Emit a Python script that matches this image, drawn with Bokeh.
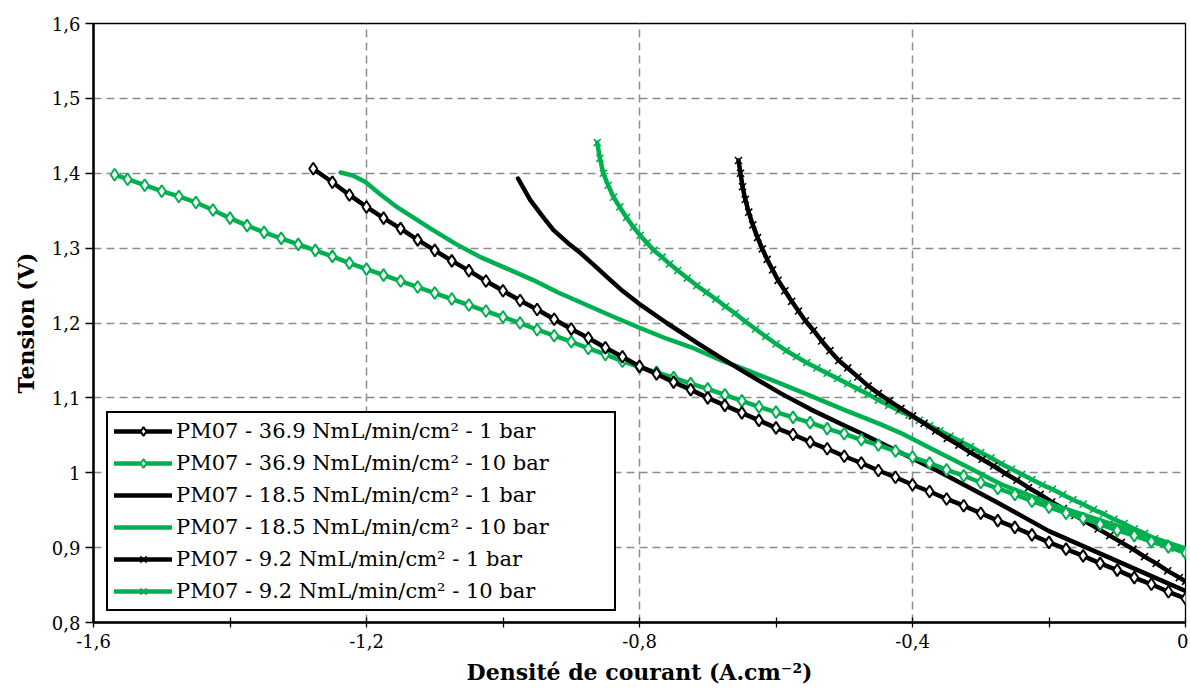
from bokeh.plotting import figure
from bokeh.models import FixedTicker, Legend, LegendItem, ColumnDataSource
from bokeh.embed import file_html
from bokeh.resources import INLINE

# ---------------- data ----------------
s1_x = [-1.278, -1.25, -1.225, -1.2, -1.175, -1.15, -1.125, -1.1, -1.075, -1.05, -1.025, -1.0,
        -0.975, -0.95, -0.925, -0.9, -0.875, -0.85, -0.825, -0.8, -0.775, -0.75, -0.725, -0.7,
        -0.675, -0.65, -0.625, -0.6, -0.575, -0.55, -0.525, -0.5, -0.475, -0.45, -0.425, -0.4,
        -0.375, -0.35, -0.325, -0.3, -0.275, -0.25, -0.225, -0.2, -0.175, -0.15, -0.125, -0.1,
        -0.075, -0.05, -0.025, 0.0]
s1_y = [1.406, 1.388, 1.371, 1.355, 1.340, 1.326, 1.311, 1.297, 1.283, 1.270, 1.256, 1.243,
        1.230, 1.218, 1.205, 1.192, 1.180, 1.167, 1.155, 1.142, 1.132, 1.121, 1.111, 1.100,
        1.090, 1.080, 1.070, 1.060, 1.051, 1.041, 1.032, 1.022, 1.013, 1.003, 0.994, 0.984,
        0.975, 0.965, 0.956, 0.946, 0.936, 0.927, 0.917, 0.907, 0.898, 0.889, 0.879, 0.870,
        0.860, 0.851, 0.841, 0.832]

s2_x = [-1.569, -1.55, -1.525, -1.5, -1.475, -1.45, -1.425, -1.4, -1.375, -1.35, -1.325, -1.3,
        -1.275, -1.25, -1.225, -1.2, -1.175, -1.15, -1.125, -1.1, -1.075, -1.05, -1.025, -1.0,
        -0.975, -0.95, -0.925, -0.9, -0.875, -0.85, -0.825, -0.8, -0.775, -0.75, -0.725, -0.7,
        -0.675, -0.65, -0.625, -0.6, -0.575, -0.55, -0.525, -0.5, -0.475, -0.45, -0.425, -0.4,
        -0.375, -0.35, -0.325, -0.3, -0.275, -0.25, -0.225, -0.2, -0.175, -0.15, -0.125, -0.1,
        -0.075, -0.05, -0.025, 0.0]
s2_y = [1.398, 1.392, 1.384, 1.376, 1.369, 1.361, 1.351, 1.340, 1.330, 1.321, 1.313, 1.305,
        1.297, 1.289, 1.280, 1.272, 1.264, 1.256, 1.248, 1.240, 1.232, 1.224, 1.216, 1.208,
        1.200, 1.191, 1.183, 1.175, 1.166, 1.158, 1.149, 1.141, 1.134, 1.127, 1.119, 1.112,
        1.104, 1.096, 1.088, 1.081, 1.074, 1.067, 1.059, 1.052, 1.044, 1.037, 1.029, 1.021,
        1.013, 1.004, 0.996, 0.987, 0.979, 0.971, 0.962, 0.954, 0.946, 0.939, 0.931, 0.923,
        0.916, 0.908, 0.901, 0.893]

s3_x = [-0.978, -0.96, -0.94, -0.926, -0.905, -0.886, -0.865, -0.847, -0.825, -0.801, -0.76,
        -0.715, -0.68, -0.64, -0.593, -0.55, -0.5, -0.476, -0.418, -0.36, -0.31, -0.271,
        -0.2, -0.15, -0.1, -0.05, 0.0]
s3_y = [1.393, 1.364, 1.340, 1.324, 1.307, 1.293, 1.276, 1.261, 1.243, 1.226, 1.200,
        1.173, 1.153, 1.131, 1.106, 1.085, 1.063, 1.053, 1.027, 1.001, 0.977, 0.958,
        0.922, 0.902, 0.882, 0.862, 0.842]

s4_x = [-1.238, -1.22, -1.201, -1.18, -1.154, -1.13, -1.106, -1.07, -1.033, -0.995, -0.955,
        -0.92, -0.88, -0.84, -0.801, -0.76, -0.72, -0.68, -0.64, -0.593, -0.55, -0.5, -0.45,
        -0.417, -0.37, -0.32, -0.271, -0.235, -0.2, -0.15, -0.1, -0.05, 0.0]
s4_y = [1.401, 1.397, 1.388, 1.372, 1.354, 1.340, 1.326, 1.306, 1.288, 1.273, 1.257,
        1.241, 1.225, 1.209, 1.194, 1.179, 1.166, 1.150, 1.136, 1.119, 1.103, 1.084, 1.066,
        1.053, 1.031, 1.008, 0.985, 0.972, 0.959, 0.944, 0.929, 0.914, 0.899]

s5_x = [-0.655, -0.652, -0.649, -0.645, -0.640, -0.634, -0.627, -0.620, -0.613, -0.605, -0.597,
        -0.587, -0.577, -0.567, -0.557, -0.545, -0.533, -0.521, -0.508, -0.495, -0.480, -0.465,
        -0.450, -0.434, -0.417, -0.400, -0.383, -0.366, -0.349, -0.332, -0.315, -0.298, -0.281,
        -0.264, -0.247, -0.230, -0.213, -0.196, -0.179, -0.162, -0.145, -0.128, -0.111, -0.094,
        -0.077, -0.060, -0.043, -0.026, -0.009, 0.0]
s5_y = [1.417, 1.400, 1.382, 1.365, 1.348, 1.331, 1.314, 1.299, 1.285, 1.271, 1.257,
        1.243, 1.229, 1.216, 1.203, 1.190, 1.176, 1.163, 1.150, 1.140, 1.128, 1.116,
        1.106, 1.096, 1.086, 1.076, 1.066, 1.056, 1.046, 1.037, 1.027, 1.018, 1.009,
        0.999, 0.990, 0.980, 0.971, 0.961, 0.952, 0.943, 0.934, 0.925, 0.916, 0.907,
        0.898, 0.888, 0.879, 0.869, 0.860, 0.855]

s6_x = [-0.862, -0.858, -0.853, -0.846, -0.838, -0.829, -0.819, -0.809, -0.799, -0.789, -0.779,
        -0.767, -0.756, -0.744, -0.730, -0.716, -0.702, -0.688, -0.674, -0.660, -0.645, -0.630,
        -0.615, -0.600, -0.585, -0.570, -0.555, -0.540, -0.525, -0.510, -0.495, -0.480, -0.465,
        -0.450, -0.435, -0.420, -0.405, -0.390, -0.375, -0.360, -0.345, -0.330, -0.315, -0.300,
        -0.285, -0.270, -0.255, -0.240, -0.225, -0.210, -0.195, -0.180, -0.165, -0.150, -0.135,
        -0.120, -0.105, -0.090, -0.075, -0.060, -0.045, -0.030, -0.015, 0.0]
s6_y = [1.441, 1.420, 1.400, 1.384, 1.368, 1.355, 1.341, 1.328, 1.317, 1.307, 1.297,
        1.288, 1.279, 1.270, 1.260, 1.250, 1.241, 1.232, 1.222, 1.213, 1.202, 1.192,
        1.182, 1.172, 1.163, 1.155, 1.147, 1.140, 1.133, 1.126, 1.119, 1.112, 1.105,
        1.097, 1.090, 1.083, 1.077, 1.070, 1.063, 1.056, 1.049, 1.042, 1.035, 1.027,
        1.020, 1.012, 1.005, 0.998, 0.991, 0.984, 0.978, 0.971, 0.964, 0.958, 0.951,
        0.945, 0.938, 0.932, 0.925, 0.919, 0.912, 0.906, 0.899, 0.893]

series_labels = [
    "PM07 - 36.9 NmL/min/cm² - 1 bar",
    "PM07 - 36.9 NmL/min/cm² - 10 bar",
    "PM07 - 18.5 NmL/min/cm² - 1 bar",
    "PM07 - 18.5 NmL/min/cm² - 10 bar",
    "PM07 - 9.2 NmL/min/cm² - 1 bar",
    "PM07 - 9.2 NmL/min/cm² - 10 bar",
]

x_major_ticks = [-1.6, -1.2, -0.8, -0.4, 0.0]
x_major_labels = ["-1,6", "-1,2", "-0,8", "-0,4", "0"]
x_minor_ticks = [-1.4, -1.0, -0.6, -0.2]
y_ticks = [0.8, 0.9, 1.0, 1.1, 1.2, 1.3, 1.4, 1.5, 1.6]
y_labels = ["0,8", "0,9", "1", "1,1", "1,2", "1,3", "1,4", "1,5", "1,6"]

x_title = "Densité de courant (A.cm⁻²)"
y_title = "Tension (V)"

# ---------------- styling ----------------
BLACK = "#000000"
GREEN = "#00B050"
SERIF = "DejaVu Serif"

p = figure(width=1188, height=700, x_range=(-1.6, 0.0), y_range=(0.8, 1.6),
           output_backend="svg", toolbar_location=None,
           min_border_left=93, min_border_right=3, min_border_top=23, min_border_bottom=78)

p.background_fill_color = "white"
p.border_fill_color = "white"
p.outline_line_color = "black"
p.outline_line_width = 1.3

# axes
p.xaxis.ticker = FixedTicker(ticks=x_major_ticks, minor_ticks=x_minor_ticks)
p.xaxis.major_label_overrides = dict(zip(x_major_ticks, x_major_labels))
p.yaxis.ticker = FixedTicker(ticks=y_ticks, minor_ticks=[])
p.yaxis.major_label_overrides = dict(zip(y_ticks, y_labels))

for ax in (p.xaxis[0], p.yaxis[0]):
    ax.axis_line_color = "black"
    ax.axis_line_width = 2.5
    ax.major_tick_line_color = "black"
    ax.major_tick_line_width = 1.3
    ax.minor_tick_line_color = "black"
    ax.minor_tick_line_width = 1.3
    ax.major_label_text_font = SERIF
    ax.major_label_text_font_size = "18px"
    ax.major_label_text_color = "black"
    ax.axis_label_text_font = SERIF
    ax.axis_label_text_font_style = "bold"
    ax.axis_label_text_font_size = "22px"
    ax.axis_label_text_color = "black"

p.xaxis.major_tick_in = 5
p.xaxis.major_tick_out = 5
p.xaxis.minor_tick_in = 5
p.xaxis.minor_tick_out = 5
p.xaxis.major_label_standoff = 6
p.xaxis.axis_label = x_title
p.xaxis.axis_label_standoff = 8

p.yaxis.major_tick_in = 0
p.yaxis.major_tick_out = 8
p.yaxis.minor_tick_in = 0
p.yaxis.minor_tick_out = 0
p.yaxis.major_label_standoff = 5
p.yaxis.axis_label = y_title
p.yaxis.axis_label_standoff = 10

# grid
p.xgrid.ticker = FixedTicker(ticks=x_major_ticks[1:-1])
p.ygrid.ticker = FixedTicker(ticks=y_ticks[1:-1])
for g in (p.xgrid[0], p.ygrid[0]):
    g.grid_line_color = "#8c8c8c"
    g.grid_line_width = 1.5
    g.grid_line_dash = "8 5"

# ---------------- series ----------------
LW = 4.5
items = []

def add_series(xs, ys, color, label, marker=None):
    src = ColumnDataSource(dict(x=xs, y=ys))
    r_line = p.line("x", "y", source=src, line_color=color, line_width=LW,
                    line_join="round", line_cap="round")
    rs = [r_line]
    if marker == "diamond":
        r_m = p.scatter("x", "y", source=src, marker="diamond", size=12,
                        line_color=color, line_width=2, fill_color="white")
        rs.append(r_m)
    elif marker == "x":
        r_m = p.scatter("x", "y", source=src, marker="x", size=10,
                        line_color=color, line_width=1.6)
        rs.append(r_m)
    items.append(LegendItem(label=label, renderers=rs))

add_series(s6_x, s6_y, GREEN, series_labels[5], "x")
add_series(s5_x, s5_y, BLACK, series_labels[4], "x")
add_series(s4_x, s4_y, GREEN, series_labels[3])
add_series(s3_x, s3_y, BLACK, series_labels[2])
add_series(s2_x, s2_y, GREEN, series_labels[1], "diamond")
add_series(s1_x, s1_y, BLACK, series_labels[0], "diamond")
items = items[::-1]

legend = Legend(items=items, location=(13, 11))
legend.label_text_font = SERIF
legend.label_text_font_size = "21px"
legend.label_text_color = "black"
legend.border_line_color = "black"
legend.border_line_alpha = 1.0
legend.border_line_width = 2
legend.background_fill_color = "white"
legend.background_fill_alpha = 1.0
legend.glyph_width = 58
legend.glyph_height = 22
legend.label_height = 22
legend.spacing = 8
legend.label_standoff = 4
legend.label_width = 432
legend.margin = 0
legend.padding = 6
p.add_layout(legend, "center")

open("out.html", "w").write(file_html(p, INLINE))
